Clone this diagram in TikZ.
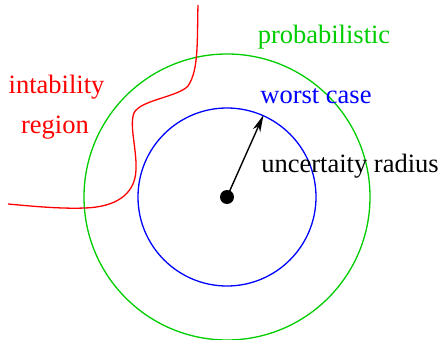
\documentclass[tikz,border=0pt]{standalone}
\usepackage{fontspec}
\setmainfont{Liberation Serif}
\usetikzlibrary{arrows.meta}
\definecolor{cgreen}{RGB}{0,205,0}
\definecolor{cred}{RGB}{255,0,0}
\definecolor{cblue}{RGB}{0,0,255}
\begin{document}
\begin{tikzpicture}[x=1pt,y=-1pt,
  lbl/.style={anchor=base,inner sep=0pt,font=\fontsize{26.5}{30}\selectfont},
  ring/.style={circle,draw,line width=1.3pt,inner sep=0pt}]
\useasboundingbox (0,0) rectangle (445,340);
\coordinate (c) at (227,197);
\node[ring,draw=cblue,minimum size=178pt] (worst) at (c) {};
\node[ring,draw=cgreen,minimum size=286pt] (prob) at (c) {};
\node[circle,fill=black,minimum size=14pt,inner sep=0pt] (dot) at (c) {};
\draw[line width=1.4pt,-{Stealth[length=17pt,width=8pt,inset=5pt]}] (dot.center) -- (worst.66);
\draw[cred,line width=1.3pt] (198,5) .. controls (197,40) and (199,70) .. (188,86)
  .. controls (178,97) and (140,100) .. (134,113)
  .. controls (129,125) and (137,150) .. (136,170)
  .. controls (135,195) and (115,207) .. (85,208)
  .. controls (60,209) and (30,206) .. (8,204);
\node[lbl,text=cred] (inst) at (56.5,93) {intability};
\node[lbl,text=cred] (reg) at (55,133) {region};
\node[lbl,text=cgreen] (pl) at (324,43) {probabilistic};
\node[lbl,text=cblue] (wl) at (316,103) {worst case};
\node[lbl] (ul) at (350,172) {uncertaity radius};
\end{tikzpicture}
\end{document}
